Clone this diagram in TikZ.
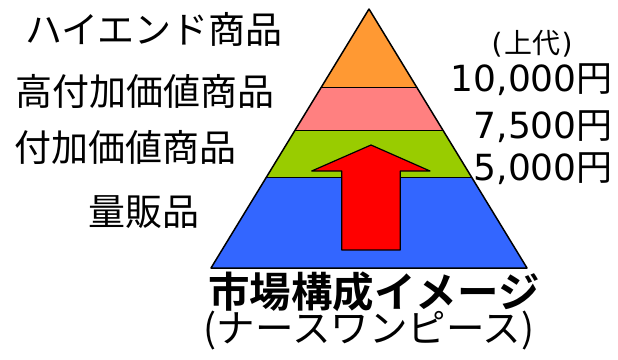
\documentclass[tikz,border=0pt]{standalone}
\usepackage{fontspec}
\setmainfont{Noto Sans CJK JP}[BoldFont={Noto Sans CJK JP Bold}]
\newfontfamily\numfont{DejaVu Sans}
\usetikzlibrary{calc}
\begin{document}
\begin{tikzpicture}[x=1pt,y=-1pt,
  lvl/.style={draw=black,line width=1.5pt,line join=round},
  lbl/.style={inner sep=0pt,font=\fontsize{37}{40}\selectfont},
  price/.style={inner sep=0pt,anchor=east,font=\fontsize{36}{40}\selectfont}]
\useasboundingbox (0,0) rectangle (618,359);
\coordinate (A) at (369,9);
\coordinate (BL) at (211,268);
\coordinate (BR) at (527,268);
\coordinate (L1) at ($(A)!0.3023!(BL)$);
\coordinate (R1) at ($(A)!0.3023!(BR)$);
\coordinate (L2) at ($(A)!0.4710!(BL)$);
\coordinate (R2) at ($(A)!0.4710!(BR)$);
\coordinate (L3) at ($(A)!0.6514!(BL)$);
\coordinate (R3) at ($(A)!0.6514!(BR)$);
\fill[fill={rgb,255:red,255;green,153;blue,51}] (A) -- (R1) -- (L1) -- cycle;
\fill[fill={rgb,255:red,255;green,128;blue,128}] (L1) -- (R1) -- (R2) -- (L2) -- cycle;
\fill[fill={rgb,255:red,153;green,204;blue,0}] (L2) -- (R2) -- (R3) -- (L3) -- cycle;
\fill[fill={rgb,255:red,51;green,102;blue,255}] (L3) -- (R3) -- (BR) -- (BL) -- cycle;
\draw[line width=1pt] (L1) -- (R1) (L2) -- (R2) (L3) -- (R3);
\draw[lvl] (A) -- (BR) -- (BL) -- cycle;
% arrow
\draw[lvl,fill=red,line width=1.2pt] (371,145) -- (430,171) -- (400.3,171) -- (400.3,250) -- (341.7,250) -- (341.7,171) -- (311.7,171) -- cycle;
% labels
\node[lbl] (t1) at (154,29) {ハイエンド商品};
\node[lbl] (t2) at (145,91) {高付加価値商品};
\node[lbl] (t3) at (125,147) {付加価値商品};
\node[lbl] (t4) at (144,212) {量販品};
\node[inner sep=0pt,font=\fontsize{28}{30}\selectfont] (p0) at (532,44) {{\numfont(}\hspace{2pt}上代\hspace{1pt}{\numfont)}};
\node[price] (p1) at (613,80) {{\numfont 10,000}円};
\node[price] (p2) at (613,127) {{\numfont 7,500}円};
\node[price] (p3) at (613,169) {{\numfont 5,000}円};
\node[inner sep=0pt,font=\fontsize{41.5}{44}\selectfont\bfseries] (ti) at (374,292) {市場構成イメージ};
\node[inner sep=0pt,font=\fontsize{38.5}{42}\selectfont] (st) at (369,331) {(ナースワンピース)};
\end{tikzpicture}
\end{document}
